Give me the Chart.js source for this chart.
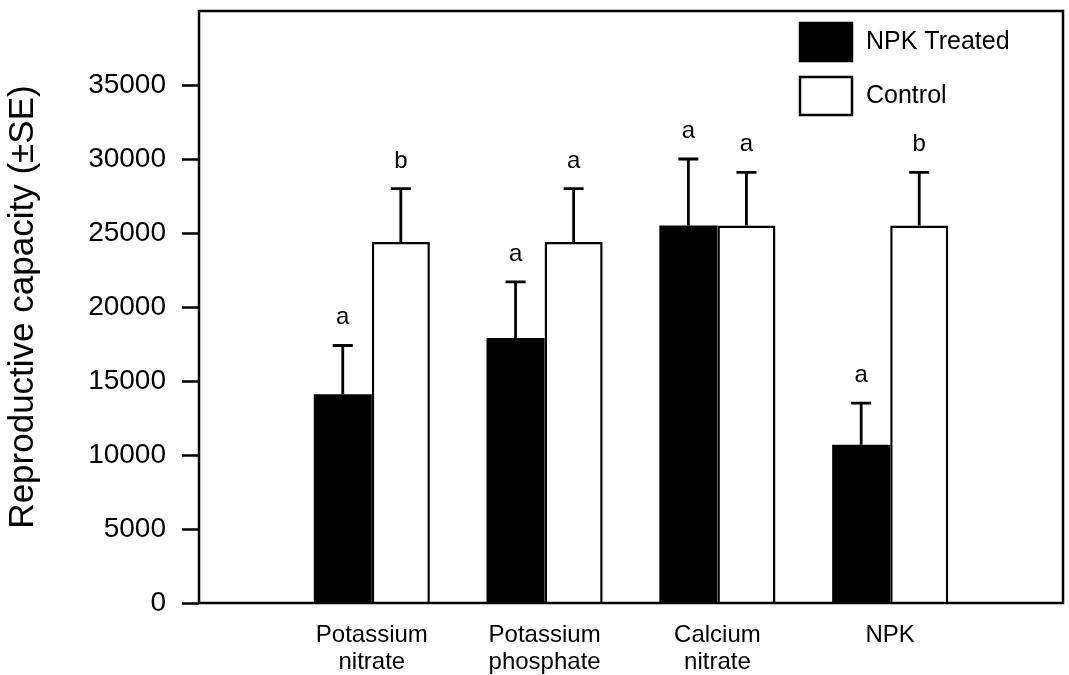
<!DOCTYPE html>
<html>
<head>
<meta charset="utf-8">
<script src="https://cdn.jsdelivr.net/npm/chart.js@4.4.0/dist/chart.umd.min.js"></script>
<style>
  body { margin: 0; background: #fff; }
  #wrap { width: 1069px; height: 675px; }
</style>
</head>
<body>
<div id="wrap"><canvas id="capChart"></canvas></div>
<script>
// ===== Data =====
const categories = ['Potassium nitrate', 'Potassium phosphate', 'Calcium nitrate', 'NPK'];
const treated    = [14100, 17900, 25500, 10700];
const treatedSE  = [3300, 3800, 4500, 2800];
const control    = [24400, 24400, 25500, 25500];
const controlSE  = [3600, 3600, 3600, 3600];
const treatedSig = ['a', 'a', 'a', 'a'];
const controlSig = ['b', 'a', 'a', 'b'];
const yTicks     = [0, 5000, 10000, 15000, 20000, 25000, 30000, 35000];

const FONT = "'Liberation Sans', Arial, Helvetica, sans-serif";
Chart.defaults.font.family = FONT;
Chart.defaults.color = '#000';

// empty slot on both sides so the groups sit one step in from each edge
const pad = v => [null, ...v, null];
const labels = ['', ...categories.map(c => c.split(' ')), ''];

// ===== Plugins =====
const frame = {
    id: 'frame',
    afterDatasetsDraw(chart) {
        const { ctx, chartArea: a } = chart;
        ctx.save();
        ctx.strokeStyle = '#000';
        ctx.lineWidth = 2.5;
        ctx.strokeRect(a.left, a.top, a.right - a.left, a.bottom - a.top);
        ctx.restore();
    }
};

const errorBars = {
    id: 'errorBars',
    afterDatasetsDraw(chart) {
        const { ctx } = chart;
        const y = chart.scales.y;
        ctx.save();
        ctx.strokeStyle = '#000';
        ctx.fillStyle = '#000';
        ctx.lineWidth = 2.8;
        ctx.font = '24px ' + FONT;
        ctx.textAlign = 'center';
        ctx.textBaseline = 'alphabetic';
        chart.data.datasets.forEach((ds, di) => {
            const meta = chart.getDatasetMeta(di);
            meta.data.forEach((bar, i) => {
                const v = ds.data[i];
                if (v == null) return;
                const top = y.getPixelForValue(v + ds.se[i]);
                ctx.beginPath();
                ctx.moveTo(bar.x, bar.y);
                ctx.lineTo(bar.x, top);
                ctx.moveTo(bar.x - 10, top);
                ctx.lineTo(bar.x + 10, top);
                ctx.stroke();
                ctx.fillText(ds.sig[i], bar.x, top - 21);
            });
        });
        ctx.restore();
    }
};

const boxLegend = {
    id: 'boxLegend',
    afterDraw(chart) {
        const { ctx, chartArea: a } = chart;
        ctx.save();
        ctx.font = '25px ' + FONT;
        ctx.textBaseline = 'middle';
        chart.data.datasets.forEach((ds, i) => {
            const x = a.right - 263, yy = a.top + 12 + i * 54;
            ctx.fillStyle = ds.backgroundColor;
            ctx.fillRect(x, yy, 52, 38);
            ctx.strokeStyle = '#000';
            ctx.lineWidth = 2.5;
            ctx.strokeRect(x, yy, 52, 38);
            ctx.fillStyle = '#000';
            ctx.fillText(ds.label, x + 66, yy + 19);
        });
        ctx.restore();
    }
};

// ===== Chart =====
const ctx = document.getElementById('capChart').getContext('2d');
new Chart(ctx, {
    type: 'bar',
    data: {
        labels: labels,
        datasets: [
            {
                label: 'NPK Treated',
                data: pad(treated),
                se: pad(treatedSE),
                sig: pad(treatedSig),
                backgroundColor: '#000',
                borderColor: '#000',
                borderWidth: 0
            },
            {
                label: 'Control',
                data: pad(control),
                se: pad(controlSE),
                sig: pad(controlSig),
                backgroundColor: '#fff',
                borderColor: '#000',
                borderWidth: 2.5,
                borderSkipped: 'bottom'
            }
        ]
    },
    options: {
        responsive: true,
        maintainAspectRatio: false,
        animation: false,
        layout: { padding: { top: 11, right: 6, left: 0, bottom: 0 } },
        datasets: { bar: { categoryPercentage: 0.672, barPercentage: 1 } },
        plugins: {
            legend: { display: false },
            tooltip: { enabled: false }
        },
        scales: {
            x: {
                offset: false,
                grid: { display: false },
                border: { display: false },
                ticks: {
                    font: { size: 24, lineHeight: 1.12 },
                    color: '#000',
                    padding: 11,
                    maxRotation: 0,
                    autoSkip: false
                },
                afterFit(s) {
                    s.height = 72;
                    s.paddingLeft = 0;
                    s.paddingRight = 0;
                }
            },
            y: {
                min: 0,
                max: 40000,
                afterBuildTicks(s) { s.ticks = yTicks.map(v => ({ value: v })); },
                grid: {
                    drawOnChartArea: false,
                    drawTicks: true,
                    tickLength: 17,
                    tickWidth: 2.5,
                    tickColor: '#000'
                },
                border: { display: false },
                ticks: {
                    font: { size: 28 },
                    color: '#000',
                    padding: 16,
                    callback: v => String(v)
                },
                title: {
                    display: true,
                    text: 'Reproductive capacity (±SE)',
                    font: { size: 35 },
                    color: '#000',
                    padding: { top: 2, bottom: 0 }
                },
                afterFit(s) {
                    s.width = 199;
                    s.paddingTop = 0;
                    s.paddingBottom = 0;
                }
            }
        }
    },
    plugins: [errorBars, frame, boxLegend]
});
</script>
</body>
</html>
